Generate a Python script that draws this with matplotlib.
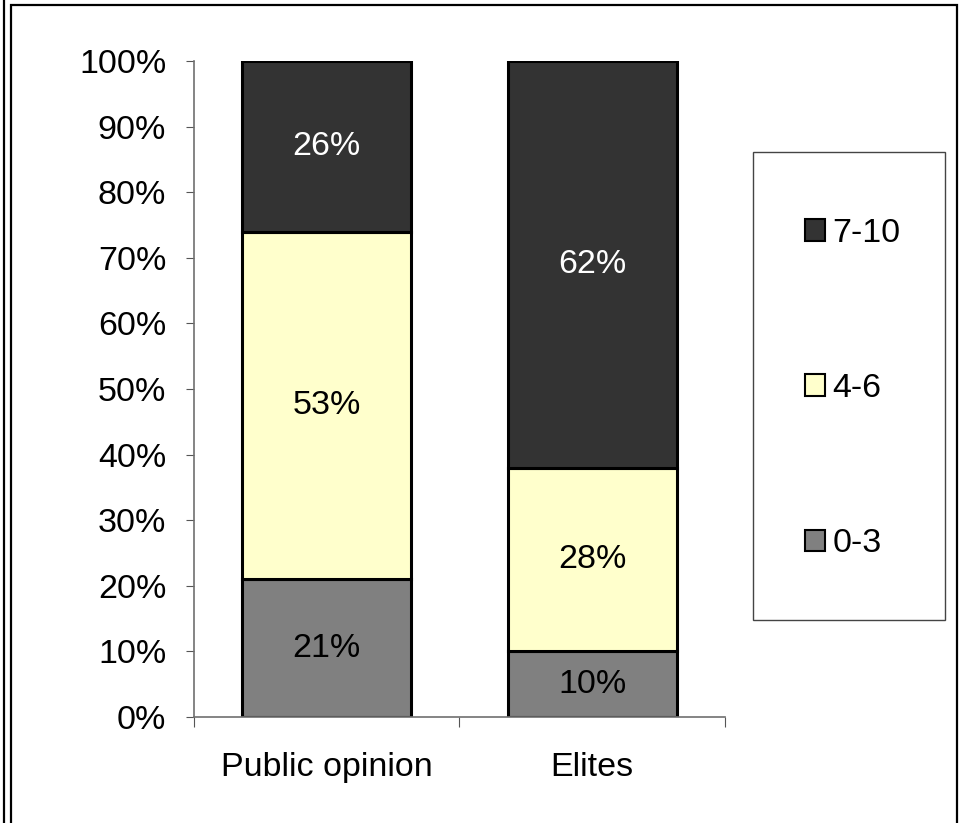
"""Stacked percentage bars: public opinion vs elites."""

import matplotlib

matplotlib.use("Agg")
import matplotlib.pyplot as plt
from matplotlib.lines import Line2D
from matplotlib.patches import Rectangle

plt.rcParams["font.family"] = ["Liberation Sans", "DejaVu Sans"]

categories = ["Public opinion", "Elites"]
series_names = ["0-3", "4-6", "7-10"]
low = [21, 10]
mid = [53, 28]
high = [26, 62]
colors = ["#808080", "#FFFFCC", "#333333"]
label_colors = ["black", "black", "white"]
yticks = [0, 10, 20, 30, 40, 50, 60, 70, 80, 90, 100]

FS = 24.5
W, H = 965, 823

fig = plt.figure(figsize=(W / 100, H / 100), dpi=100)
ax = fig.add_axes([0.201, 0.1288, 0.5503, 0.7971])

x = [0, 1]
bottom = [0, 0]
handles = []
for name, vals, color, tcolor in zip(series_names, [low, mid, high], colors, label_colors):
    bars = ax.bar(x, vals, width=0.635, bottom=bottom, color=color,
                  edgecolor="black", linewidth=2.2, label=name)
    handles.append(bars)
    for xi, b, v in zip(x, bottom, vals):
        ax.text(xi, b + v / 2, f"{v}%", ha="center", va="center",
                fontsize=FS, color=tcolor)
    bottom = [b + v for b, v in zip(bottom, vals)]

ax.set_xlim(-0.5, 1.5)
ax.set_ylim(0, 100)
ax.set_yticks(yticks)
ax.set_yticklabels([f"{t}%" for t in yticks], fontsize=FS)
ax.set_xticks([-0.5, 0.5, 1.5])
ax.set_xticklabels([])
ax.set_xticks(x, minor=True)
ax.set_xticklabels(categories, minor=True, fontsize=FS)
ax.tick_params(axis="x", which="major", direction="out", length=7, color="#555555")
ax.tick_params(axis="x", which="minor", length=0, pad=25)
ax.tick_params(axis="y", direction="out", length=6, color="#555555", pad=14)
for side in ["top", "right"]:
    ax.spines[side].set_visible(False)
for side in ["left", "bottom"]:
    ax.spines[side].set_color("#707070")
    ax.spines[side].set_linewidth(1.2)

# legend box drawn separately, entries placed inside it
fig.add_artist(Rectangle((753 / W, 1 - 620 / H), 192 / W, 468 / H,
                         transform=fig.transFigure, fill=False,
                         edgecolor="#444444", linewidth=1.0))
leg = fig.legend(handles[::-1], series_names[::-1], loc="upper left",
                 bbox_to_anchor=(805 / W, 1 - 218 / H), fontsize=FS, frameon=False,
                 handlelength=0.6, handleheight=0.6,
                 handletextpad=0.2, labelspacing=3.65, borderpad=0,
                 borderaxespad=0)
for patch in leg.get_patches():
    patch.set_linewidth(1.5)

# outer chart border lines
fig.add_artist(Rectangle((11 / W, -0.01), 946 / W, 1 - 5 / H + 0.01,
                         transform=fig.transFigure, fill=False,
                         edgecolor="black", linewidth=1.6))
fig.add_artist(Line2D([3.5 / W, 3.5 / W], [0, 1], transform=fig.transFigure,
                      color="black", linewidth=1.6))

fig.savefig("out.png", dpi=100)
